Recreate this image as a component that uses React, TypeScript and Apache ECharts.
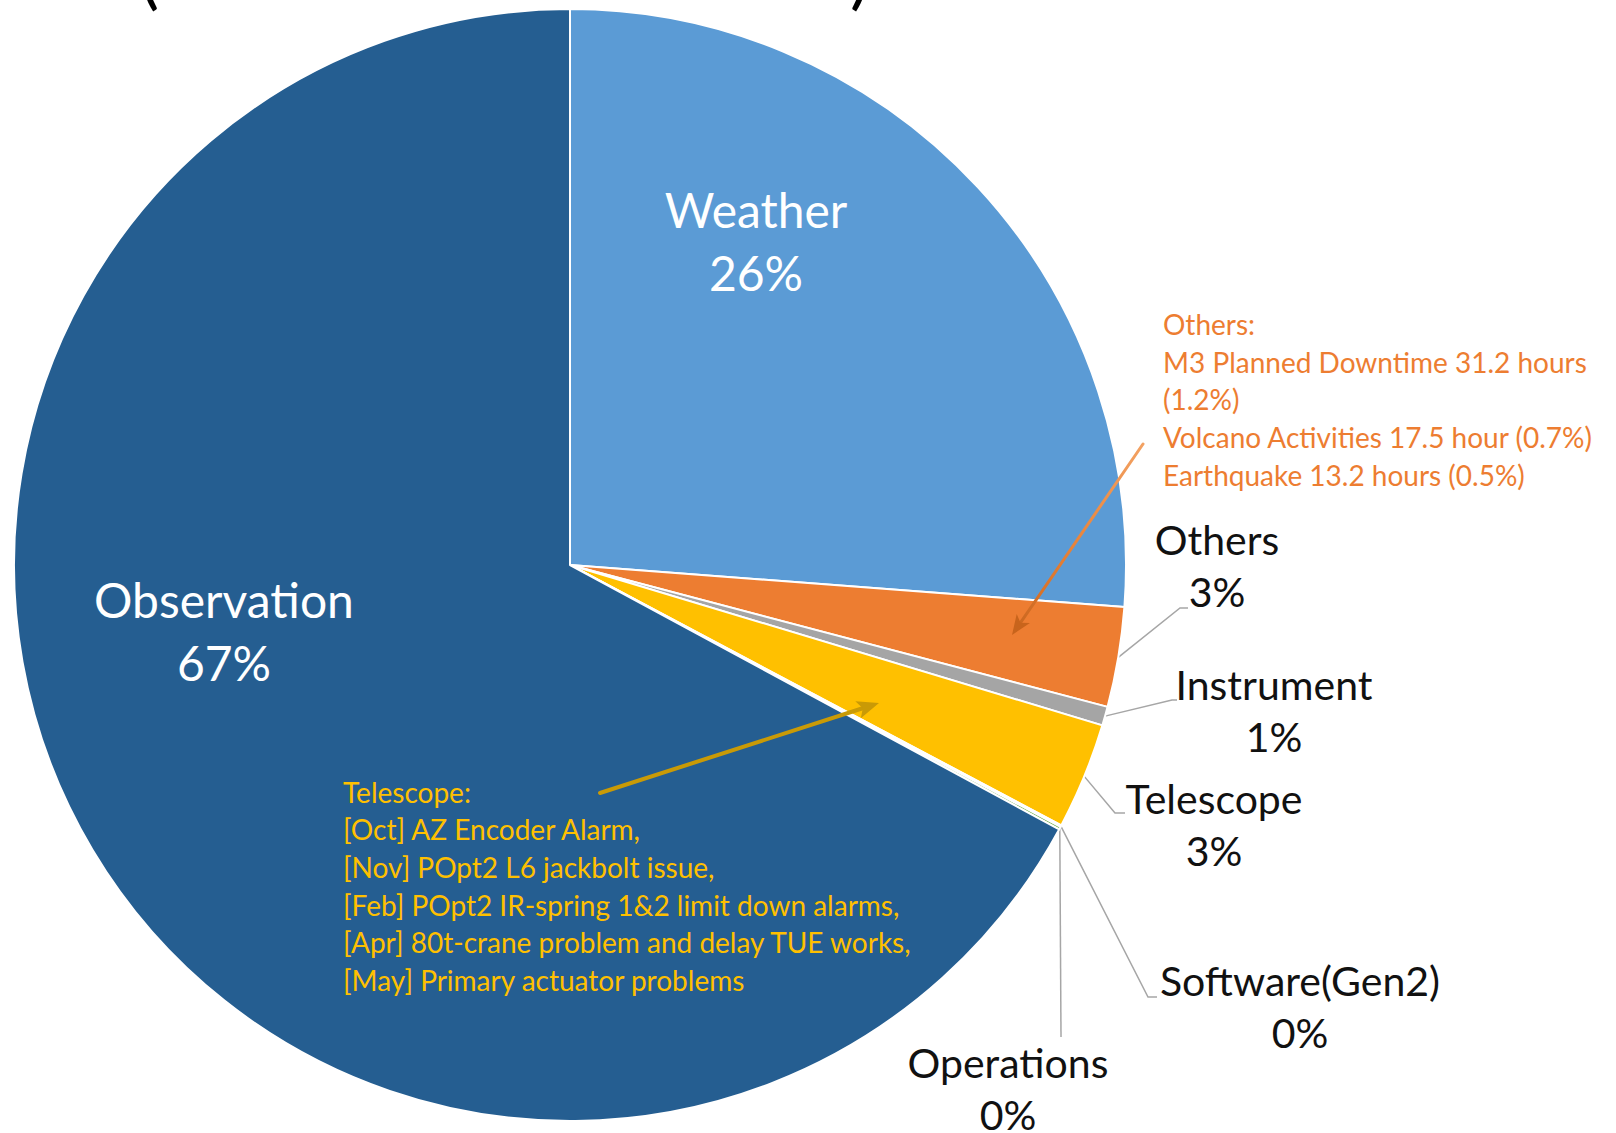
import React, { useEffect, useRef } from "react";
import * as echarts from "echarts";

// ---- data ----
const categories = [
  "Weather",
  "Others",
  "Instrument",
  "Telescope",
  "Software(Gen2)",
  "Operations",
  "Observation",
];
const shares = [26.2, 2.9, 0.55, 3.1, 0.05, 0.08, 67.1];
const sliceColors = ["#5B9BD5", "#ED7D31", "#A5A5A5", "#FFC000", "#4472C4", "#70AD47", "#255E91"];
const insideLabels = ["Weather", "Observation"];

const othersNote = [
  "Others:",
  "M3 Planned Downtime 31.2 hours",
  "(1.2%)",
  "Volcano Activities 17.5 hour (0.7%)",
  "Earthquake 13.2 hours (0.5%)",
];
const telescopeNote = [
  "Telescope:",
  "[Oct] AZ Encoder Alarm,",
  "[Nov] POpt2 L6 jackbolt issue,",
  "[Feb] POpt2 IR-spring 1&2 limit down alarms,",
  "[Apr] 80t-crane problem and delay TUE works,",
  "[May] Primary actuator problems",
];

// ---- layout / styles ----
const FONT = "Lato";
const LABEL_LAYOUT: Record<string, { x: number; y: number; line?: number[][] }> = {
  Weather: { x: 756, y: 241 },
  Observation: { x: 224, y: 631 },
  Others: { x: 1217, y: 565, line: [[1180, 608], [1188, 608]] },
  Instrument: { x: 1274, y: 710, line: [[1172, 700], [1177, 700]] },
  Telescope: { x: 1214, y: 824, line: [[1115, 813], [1125, 813]] },
  "Software(Gen2)": { x: 1300, y: 1006, line: [[1148, 997], [1157, 997]] },
  Operations: { x: 1008, y: 1088, line: [[1061, 1037], [1061, 1037]] },
};

function arrow(
  x1: number,
  y1: number,
  x2: number,
  y2: number,
  stroke: any,
  head: string,
  width: number,
  headLen: number,
  headW: number
) {
  const dx = x2 - x1;
  const dy = y2 - y1;
  const L = Math.hypot(dx, dy);
  const ux = dx / L;
  const uy = dy / L;
  const bx = x2 - ux * headLen;
  const by = y2 - uy * headLen;
  return [
    { type: "line", z: 100, shape: { x1, y1, x2: bx + ux * 4, y2: by + uy * 4 }, style: { stroke, lineWidth: width, lineCap: "round" } },
    {
      type: "polygon",
      z: 100,
      shape: { points: [[x2, y2], [bx - uy * headW, by + ux * headW], [bx + ux * 5, by + uy * 5], [bx + uy * headW, by - ux * headW]] },
      style: { fill: head },
    },
  ];
}

export default function App() {
  const ref = useRef<HTMLDivElement>(null);
  useEffect(() => {
    document.body.style.margin = "0";
    if (!ref.current) return;
    const chart = echarts.init(ref.current, null, { renderer: "svg" });
    const data = categories.map((name, i) => {
      const inside = insideLabels.includes(name);
      return {
        name,
        value: shares[i],
        itemStyle: { color: sliceColors[i] },
        label: inside
          ? { position: "inside", color: "#ffffff", fontSize: 48, lineHeight: 63 }
          : { position: "outside", color: "#111111", fontSize: 41, lineHeight: 52 },
        labelLine: { show: !inside },
      };
    });
    const orangeGrad = new echarts.graphic.LinearGradient(
      1143,
      444,
      1012,
      635,
      [
        { offset: 0, color: "#F3A263" },
        { offset: 0.5, color: "#E9853C" },
        { offset: 1, color: "#C8641C" },
      ],
      true
    );
    chart.setOption({
      animation: false,
      backgroundColor: "#ffffff",
      series: [
        {
          type: "pie",
          center: [570, 565],
          radius: [0, 556],
          startAngle: 90,
          clockwise: true,
          avoidLabelOverlap: false,
          percentPrecision: 0,
          itemStyle: { borderColor: "#ffffff", borderWidth: 2 },
          label: {
            show: true,
            formatter: "{b}\n{d}%",
            fontFamily: FONT,
            align: "center",
          },
          labelLine: { show: true, lineStyle: { color: "#A6A6A6", width: 1.5 } },
          labelLayout: (params: any) => {
            const name = categories[params.dataIndex];
            const spec = LABEL_LAYOUT[name];
            const out: any = { x: spec.x, y: spec.y, align: "center", verticalAlign: "middle" };
            if (spec.line && params.labelLinePoints) {
              out.labelLinePoints = [params.labelLinePoints[0], spec.line[0], spec.line[1]];
            }
            return out;
          },
          emphasis: { disabled: true },
          data,
        },
      ],
      graphic: [
        {
          type: "text",
          z: 100,
          x: 1163,
          y: 305,
          style: {
            text: othersNote.join("\n"),
            fill: "#ED7D31",
            fontFamily: FONT,
            fontSize: 28,
            lineHeight: 37.7,
            verticalAlign: "top",
            align: "left",
          },
        },
        {
          type: "text",
          z: 100,
          x: 343,
          y: 773,
          style: {
            text: telescopeNote.join("\n"),
            fill: "#FFC000",
            fontFamily: FONT,
            fontSize: 28,
            lineHeight: 37.6,
            verticalAlign: "top",
            align: "left",
          },
        },
        ...arrow(1143, 444, 1012, 635, orangeGrad, "#C8641C", 3, 20, 8),
        ...arrow(600, 793, 879, 703, "#C99A06", "#C99A06", 4, 22, 9),
        {
          type: "text",
          z: 100,
          x: 140,
          y: -27,
          style: { text: "(", fill: "#000", fontFamily: FONT, fontSize: 72, verticalAlign: "middle", align: "left" },
        },
        {
          type: "text",
          z: 100,
          x: 850,
          y: -27,
          style: { text: ")", fill: "#000", fontFamily: FONT, fontSize: 72, verticalAlign: "middle", align: "left" },
        },
      ],
    });
    return () => chart.dispose();
  }, []);
  return <div ref={ref} style={{ width: 1616, height: 1133 }} />;
}
